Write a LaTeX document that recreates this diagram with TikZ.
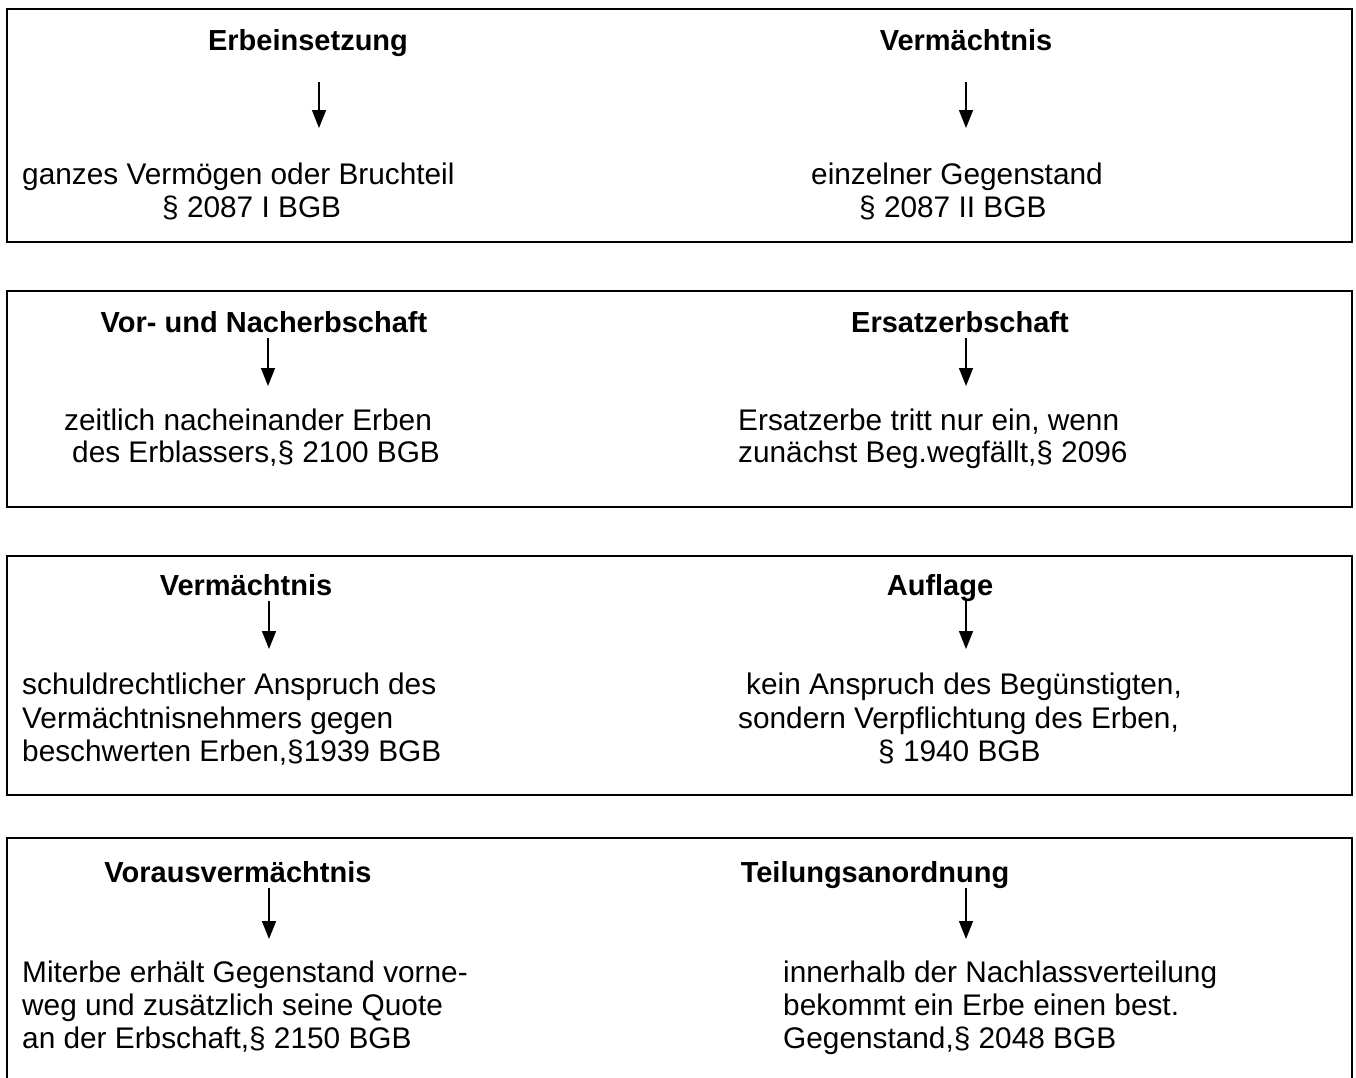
\documentclass[tikz,border=0pt]{standalone}
\usepackage{fontspec}
\setmainfont{Liberation Sans}
\usetikzlibrary{arrows.meta}
\tikzset{
  frame/.style={line width=2pt, draw=black},
  ttl/.style={font=\fontsize{29}{33}\selectfont\bfseries, inner sep=0pt, anchor=base},
  txt/.style={font=\fontsize{29.8}{33}\selectfont, inner sep=0pt, anchor=base west},
  arr/.style={line width=1.5pt, -{Triangle[width=14pt,length=18pt]}}
}
\begin{document}
\begin{tikzpicture}[x=1pt,y=-1pt]
\useasboundingbox (0,0) rectangle (1356,1077);
% frames
\draw[frame] (7,9) rectangle (1352,242);
\draw[frame] (7,291) rectangle (1352,507);
\draw[frame] (7,556) rectangle (1352,795);
\draw[frame] (7,1080) -- (7,838) -- (1352,838) -- (1352,1080);

% Box 1
\node[ttl] (t1l) at (308,50) {Erbeinsetzung};
\node[ttl] (t1r) at (966,50) {Vermächtnis};
\coordinate (a1ls) at (319,82); \coordinate (a1le) at (319,128);
\coordinate (a1rs) at (966,82); \coordinate (a1re) at (966,128);
\draw[arr] (a1ls) -- (a1le);
\draw[arr] (a1rs) -- (a1re);
\node[txt] (b1l1) at (22,184) {ganzes Vermögen oder Bruchteil};
\node[txt] (b1l2) at (162,217) {§ 2087 I BGB};
\node[txt] (b1r1) at (811,184) {einzelner Gegenstand};
\node[txt] (b1r2) at (859,217) {§ 2087 II BGB};

% Box 2
\node[ttl] (t2l) at (264,332) {Vor- und Nacherbschaft};
\node[ttl] (t2r) at (960,332) {Ersatzerbschaft};
\coordinate (a2ls) at (268,338); \coordinate (a2le) at (268,386);
\coordinate (a2rs) at (966,338); \coordinate (a2re) at (966,386);
\draw[arr] (a2ls) -- (a2le);
\draw[arr] (a2rs) -- (a2re);
\node[txt] (b2l1) at (64,430) {zeitlich nacheinander Erben};
\node[txt] (b2l2) at (72,462) {des Erblassers,§ 2100 BGB};
\node[txt] (b2r1) at (738,430) {Ersatzerbe tritt nur ein, wenn};
\node[txt] (b2r2) at (738,462) {zunächst Beg.wegfällt,§ 2096};

% Box 3
\node[ttl] (t3l) at (246,595) {Vermächtnis};
\node[ttl] (t3r) at (940,595) {Auflage};
\coordinate (a3ls) at (269,601); \coordinate (a3le) at (269,649);
\coordinate (a3rs) at (966,601); \coordinate (a3re) at (966,649);
\draw[arr] (a3ls) -- (a3le);
\draw[arr] (a3rs) -- (a3re);
\node[txt] (b3l1) at (22,694) {schuldrechtlicher Anspruch des};
\node[txt] (b3l2) at (22,728) {Vermächtnisnehmers gegen};
\node[txt] (b3l3) at (22,761) {beschwerten Erben,§1939 BGB};
\node[txt] (b3r1) at (746,694) {kein Anspruch des Begünstigten,};
\node[txt] (b3r2) at (738,728) {sondern Verpflichtung des Erben,};
\node[txt] (b3r3) at (878,761) {§ 1940 BGB};

% Box 4
\node[ttl] (t4l) at (238,882) {Vorausvermächtnis};
\node[ttl] (t4r) at (875,882) {Teilungsanordnung};
\coordinate (a4ls) at (269,888); \coordinate (a4le) at (269,939);
\coordinate (a4rs) at (966,888); \coordinate (a4re) at (966,939);
\draw[arr] (a4ls) -- (a4le);
\draw[arr] (a4rs) -- (a4re);
\node[txt] (b4l1) at (22,982) {Miterbe erhält Gegenstand vorne-};
\node[txt] (b4l2) at (22,1015) {weg und zusätzlich seine Quote};
\node[txt] (b4l3) at (22,1048) {an der Erbschaft,§ 2150 BGB};
\node[txt] (b4r1) at (783,982) {innerhalb der Nachlassverteilung};
\node[txt] (b4r2) at (783,1015) {bekommt ein Erbe einen best.};
\node[txt] (b4r3) at (783,1048) {Gegenstand,§ 2048 BGB};
\end{tikzpicture}
\end{document}
